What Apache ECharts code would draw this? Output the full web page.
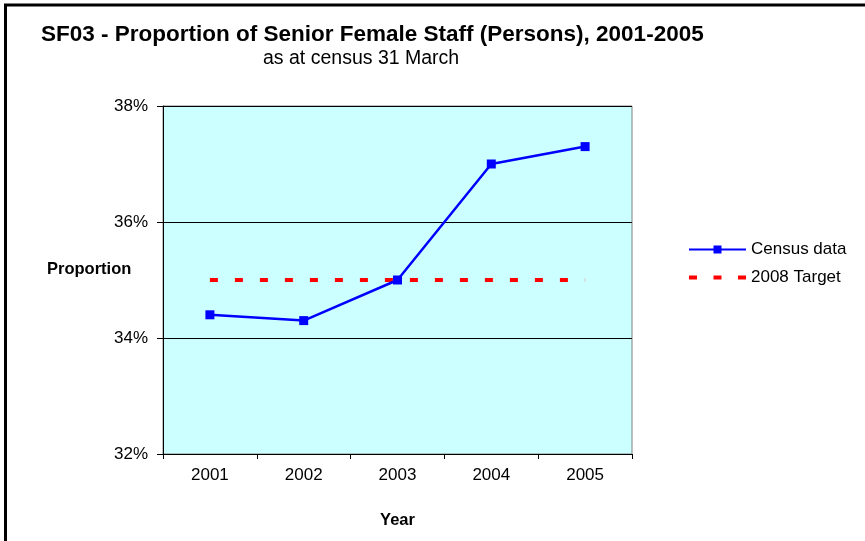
<!DOCTYPE html>
<html>
<head>
<meta charset="utf-8">
<script src="https://cdn.jsdelivr.net/npm/echarts@6/dist/echarts.min.js"></script>
<style>
  html, body { margin: 0; padding: 0; background: #fff; }
  #chart { width: 865px; height: 541px; }
</style>
</head>
<body>
<div id="chart"></div>
<script>
const years = ['2001', '2002', '2003', '2004', '2005'];
const censusData = [34.4, 34.3, 35.0, 37.0, 37.3];
const target2008 = [35, 35, 35, 35, 35];
const yTicks = { min: 32, max: 38, interval: 2 };

const chart = echarts.init(document.getElementById('chart'));
const font = 'Liberation Sans, Arial, sans-serif';

chart.setOption({
  animation: false,
  backgroundColor: '#fff',
  textStyle: { fontFamily: font },
  title: [
    {
      text: 'SF03 - Proportion of Senior Female Staff (Persons), 2001-2005',
      left: 36, top: 18,
      textStyle: { fontSize: 22.5, fontWeight: 'bold', color: '#000', fontFamily: font }
    },
    {
      text: 'as at census 31 March',
      left: 258, top: 44,
      textStyle: { fontSize: 19.5, fontWeight: 'normal', color: '#000', fontFamily: font }
    }
  ],
  graphic: [
    {
      type: 'rect', silent: true,
      shape: { x: 5.5, y: 5, width: 900, height: 600 },
      style: { fill: null, stroke: '#000', lineWidth: 3 }
    },
    {
      type: 'text', left: 47, top: 261,
      style: { text: 'Proportion', font: 'bold 16.5px ' + font, fill: '#000' }
    }
  ],
  legend: {
    orient: 'vertical',
    left: 683, top: 236,
    itemWidth: 57, itemHeight: 10,
    itemGap: 11,
    data: [
      { name: 'Census data' },
      { name: '2008 Target', icon: 'path://M0 0H8V4H0Z M24.5 0H32.5V4H24.5Z M49 0H57V4H49Z' }
    ],
    textStyle: { fontSize: 17, color: '#000', fontFamily: font }
  },
  grid: {
    left: 163, right: 233, top: 106, bottom: 87,
    show: true, backgroundColor: '#CCFFFF', borderColor: '#808080', borderWidth: 1
  },
  xAxis: {
    type: 'category',
    data: years,
    boundaryGap: true,
    name: 'Year',
    nameLocation: 'middle',
    nameGap: 58,
    nameTextStyle: { fontSize: 16.5, fontWeight: 'bold', color: '#000' },
    axisLine: { lineStyle: { color: '#000', width: 1 } },
    axisTick: { show: true, length: 5, lineStyle: { color: '#000' } },
    axisLabel: { fontSize: 17, color: '#000', margin: 13 },
    splitLine: { show: false }
  },
  yAxis: {
    type: 'value',
    min: yTicks.min, max: yTicks.max, interval: yTicks.interval,
    axisLine: { show: true, lineStyle: { color: '#000', width: 1 } },
    axisTick: { show: true, length: 6, lineStyle: { color: '#000' } },
    axisLabel: { fontSize: 17, color: '#000', margin: 15, formatter: '{value}%' },
    splitLine: { show: true, lineStyle: { color: '#000', width: 1 } }
  },
  series: [
    {
      name: '2008 Target',
      type: 'line',
      data: target2008,
      symbol: 'none',
      lineStyle: { color: '#FF0000', width: 4, type: [8, 17] },
      itemStyle: { color: '#FF0000' }
    },
    {
      name: 'Census data',
      type: 'line',
      data: censusData,
      symbol: 'rect',
      symbolSize: 9,
      lineStyle: { color: '#0000FF', width: 2.5 },
      itemStyle: { color: '#0000FF' }
    }
  ]
});
</script>
</body>
</html>
